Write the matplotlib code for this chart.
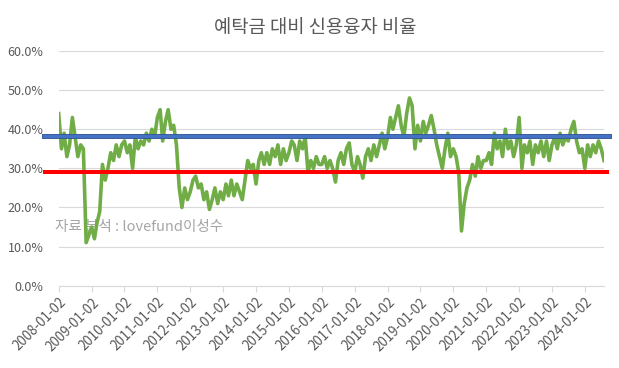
import matplotlib.pyplot as plt
import matplotlib.transforms as mtransforms
import pandas as pd
from matplotlib import patheffects as pe

plt.rcParams['font.family'] = ['Noto Sans CJK KR', 'DejaVu Sans']

# monthly credit loan / deposit ratio (%), Jan 2008 .. Aug 2024
ratio = [
    44, 35, 39, 33, 36, 43, 38, 33, 36, 35, 11, 13,      # 2008
    15, 12, 16, 19, 31, 27, 30, 34, 32, 36, 33, 36,      # 2009
    37, 34, 36, 30, 38, 35, 37, 36, 39, 37, 40, 38,      # 2010
    43, 45, 37, 42, 45, 40, 41, 36, 25, 20, 25, 22,      # 2011
    24, 27, 28, 25, 26, 22, 24, 19.5, 22, 25, 21, 24,    # 2012
    22, 26, 23, 27, 23, 26, 24, 22, 27, 32, 30, 31,      # 2013
    26, 32, 34, 31, 34, 31, 35, 33, 36, 31, 35, 32,      # 2014
    34, 37, 36, 32, 37, 35, 38, 29, 32, 30, 33, 31,      # 2015
    31, 33, 30, 32, 30, 26.5, 32, 34, 31, 35, 36.5, 31,  # 2016
    29, 33, 31, 27.5, 33, 35, 32, 36, 33, 36, 39, 35,    # 2017
    38, 43, 40, 43, 46, 41, 38, 44, 48, 46, 35, 41,      # 2018
    37, 42, 39, 41, 43.5, 40, 36, 33, 30, 35, 39, 33,    # 2019
    35, 33, 29, 14, 21, 25, 27, 31, 28, 33, 30, 32,      # 2020
    32, 34, 31, 39, 35, 37, 33, 40, 35, 37, 33, 36,      # 2021
    43, 30, 36, 34, 37, 31, 36, 34, 37, 33, 37, 32,      # 2022
    36, 38, 35, 39, 36, 38, 37, 40, 42, 37, 34, 35,      # 2023
    30, 36, 33, 36, 34, 37, 35, 32,                      # 2024
]
dates = pd.date_range('2008-01-01', periods=len(ratio), freq='MS') + pd.Timedelta(days=1)

upper_level = 38.4
lower_level = 29.1

tick_labels = [f'{y}-01-02' for y in range(2008, 2025)]
y_ticks = [0, 10, 20, 30, 40, 50, 60]

grey = '#595959'

fig = plt.figure(figsize=(6.19, 3.68), dpi=100)
ax = fig.add_axes([0.0948, 0.2236, 0.881, 0.6378])

ax.plot(dates, ratio, color='#70AD47', lw=2.6, zorder=3)

ax.axhline(upper_level, xmin=-0.027, xmax=1.0086, color='#4472C4', lw=2.4,
           clip_on=False, zorder=4,
           path_effects=[pe.Stroke(linewidth=3.5, foreground='#2F528F'), pe.Normal()])
ax.axhline(lower_level, xmin=-0.025, xmax=1.005, color='#FF0000', lw=2.9,
           clip_on=False, zorder=4)

ax.text(-0.007, 0.25, '자료 분석 : lovefund이성수', transform=ax.transAxes,
        fontsize=10.5, color='#A6A6A6', va='center', ha='left', zorder=1)

ax.set_xlim(dates[0], dates[-1])
ax.set_ylim(0, 60)
ax.set_yticks(y_ticks)
ax.set_yticklabels([f'{v:.1f}%' for v in y_ticks])
ax.set_xticks(pd.to_datetime(tick_labels))
ax.set_xticklabels(tick_labels, rotation=45, ha='right', va='top', rotation_mode='anchor',
                   fontsize=9.6)
shift = mtransforms.ScaledTranslation(4 / 100, -6 / 100, fig.dpi_scale_trans)
for lab in ax.get_xticklabels():
    lab.set_transform(lab.get_transform() + shift)

ax.grid(axis='y', color='#D9D9D9', lw=0.8)
ax.set_axisbelow(True)
for side in ['top', 'right', 'left']:
    ax.spines[side].set_visible(False)
ax.spines['bottom'].set_color('#D9D9D9')
ax.tick_params(axis='y', length=0, pad=11, labelsize=9, labelcolor=grey)
ax.tick_params(axis='x', length=4, color='#D9D9D9', pad=3, labelcolor=grey)

fig.text(0.51, 0.925, '예탁금 대비 신용융자 비율', ha='center', va='center',
         fontsize=13.5, color=grey)

fig.savefig('out.png', dpi=100)
